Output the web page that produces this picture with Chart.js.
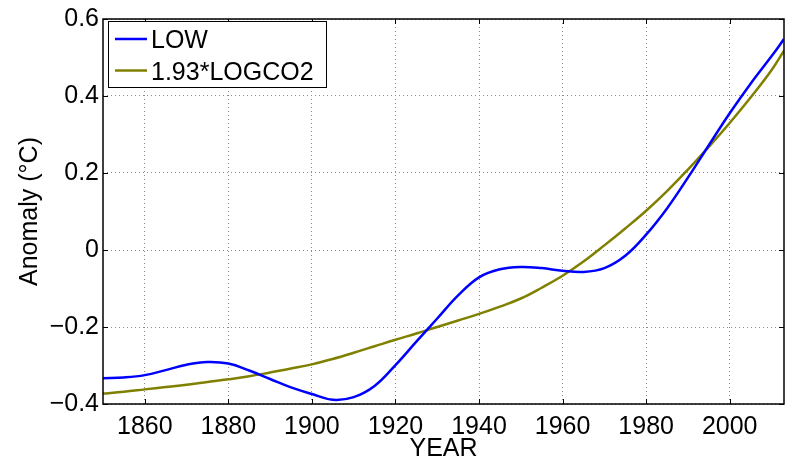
<!DOCTYPE html>
<html>
<head>
<meta charset="utf-8">
<script src="https://cdn.jsdelivr.net/npm/chart.js@4/dist/chart.umd.min.js"></script>
<style>html,body{margin:0;padding:0;background:#fff}canvas{display:block}</style>
</head>
<body>
<canvas id="c" width="785" height="458"></canvas>
<script>
// Smoothed temperature anomaly vs. scaled log CO2
const years = [1850,1855,1860,1865,1870,1875,1880,1885,1890,1895,1900,1905,1910,1915,1920,1925,1930,1935,1940,1945,1950,1955,1960,1965,1970,1975,1980,1985,1990,1995,2000,2005,2010,2013];
const lowValues = [-0.333,-0.331,-0.325,-0.312,-0.298,-0.291,-0.295,-0.313,-0.335,-0.357,-0.374,-0.389,-0.382,-0.353,-0.299,-0.238,-0.178,-0.118,-0.071,-0.050,-0.044,-0.047,-0.054,-0.057,-0.047,-0.015,0.040,0.108,0.188,0.272,0.355,0.432,0.503,0.548];
const co2Values = [-0.373,-0.368,-0.362,-0.356,-0.350,-0.343,-0.336,-0.328,-0.318,-0.308,-0.297,-0.283,-0.267,-0.250,-0.233,-0.217,-0.200,-0.183,-0.166,-0.147,-0.126,-0.098,-0.067,-0.030,0.012,0.056,0.102,0.153,0.209,0.268,0.330,0.396,0.467,0.518];
const seriesNames = ['LOW', '1.93*LOGCO2'];
const seriesColors = ['#0000ff', '#808000'];
const xTicks = [1860,1880,1900,1920,1940,1960,1980,2000];
const yTicks = [-0.4,-0.2,0,0.2,0.4,0.6];

const FONT = "'Liberation Sans', Arial, Helvetica, sans-serif";
const FS = 25;

function pts(vals) { return years.map((y, i) => ({x: y, y: vals[i]})); }

// Box around the axes, inward tick marks on all four sides, and the legend
const framePlugin = {
  id: 'frame',
  afterDraw(chart) {
    const ctx = chart.ctx;
    const a = chart.chartArea;
    const xs = chart.scales.x, ys = chart.scales.y;
    const tl = 5;
    ctx.save();
    ctx.strokeStyle = '#000';
    ctx.lineWidth = 1;
    ctx.beginPath();
    xTicks.forEach(t => {
      const px = Math.round(xs.getPixelForValue(t)) + 0.5;
      ctx.moveTo(px, a.bottom); ctx.lineTo(px, a.bottom - tl);
      ctx.moveTo(px, a.top); ctx.lineTo(px, a.top + tl);
    });
    yTicks.forEach(t => {
      const py = Math.round(ys.getPixelForValue(t)) + 0.5;
      ctx.moveTo(a.left, py); ctx.lineTo(a.left + tl, py);
      ctx.moveTo(a.right, py); ctx.lineTo(a.right - tl, py);
    });
    ctx.stroke();
    ctx.lineWidth = 1.5;
    ctx.strokeRect(a.left, a.top, a.right - a.left, a.bottom - a.top);

    // legend
    const lx = 108, ly = 21, lw = 218, lh = 66;
    ctx.fillStyle = '#fff';
    ctx.fillRect(lx, ly, lw, lh);
    ctx.lineWidth = 1;
    ctx.strokeStyle = '#000';
    ctx.strokeRect(lx + 0.5, ly + 0.5, lw, lh);
    ctx.font = FS + 'px ' + FONT;
    ctx.textBaseline = 'alphabetic';
    ctx.textAlign = 'left';
    chart.data.datasets.forEach((ds, i) => {
      const yLine = 39 + i * 31.5;
      ctx.strokeStyle = ds.borderColor;
      ctx.lineWidth = 2.5;
      ctx.beginPath();
      ctx.moveTo(115, yLine); ctx.lineTo(147, yLine);
      ctx.stroke();
      ctx.fillStyle = '#000';
      ctx.fillText(ds.label, 151, yLine + 9);
    });
    ctx.restore();
  }
};

new Chart(document.getElementById('c'), {
  type: 'line',
  data: {
    datasets: [
      {label: seriesNames[0], data: pts(lowValues), borderColor: seriesColors[0], borderWidth: 2.5, pointRadius: 0, tension: 0.4, fill: false},
      {label: seriesNames[1], data: pts(co2Values), borderColor: seriesColors[1], borderWidth: 2.5, pointRadius: 0, tension: 0.4, fill: false}
    ]
  },
  options: {
    responsive: false,
    devicePixelRatio: 1,
    animation: false,
    layout: {padding: {top: 16, right: 1, left: 0, bottom: 0}},
    plugins: {legend: {display: false}, tooltip: {enabled: false}},
    scales: {
      x: {
        type: 'linear', min: 1850, max: 2013,
        afterBuildTicks: s => { s.ticks = xTicks.map(v => ({value: v})); },
        afterFit: s => { s.height = 54; },
        grid: {drawTicks: false, color: '#8a8a8a', lineWidth: 1},
        border: {display: false, dash: [1, 3]},
        ticks: {padding: 8, color: '#000', font: {family: FONT, size: FS}, maxRotation: 0, callback: v => String(v)},
        title: {display: true, text: 'YEAR', color: '#000', font: {family: FONT, size: FS, lineHeight: 0.75}, padding: {top: 0, bottom: 0}}
      },
      y: {
        type: 'linear', min: -0.4, max: 0.6,
        afterBuildTicks: s => { s.ticks = yTicks.map(v => ({value: v})); },
        afterFit: s => { s.width = 103; },
        grid: {drawTicks: false, color: '#8a8a8a', lineWidth: 1},
        border: {display: false, dash: [1, 3]},
        ticks: {padding: 4, color: '#000', font: {family: FONT, size: FS},
          callback: v => Math.abs(v) < 1e-9 ? '0' : (v < 0 ? '\u2212' : '') + Math.abs(v).toFixed(1)},
        title: {display: true, text: 'Anomaly (°C)', color: '#000', font: {family: FONT, size: FS, lineHeight: 1.2}, padding: {top: 15, bottom: 0}}
      }
    }
  },
  plugins: [framePlugin]
});
</script>
</body>
</html>
